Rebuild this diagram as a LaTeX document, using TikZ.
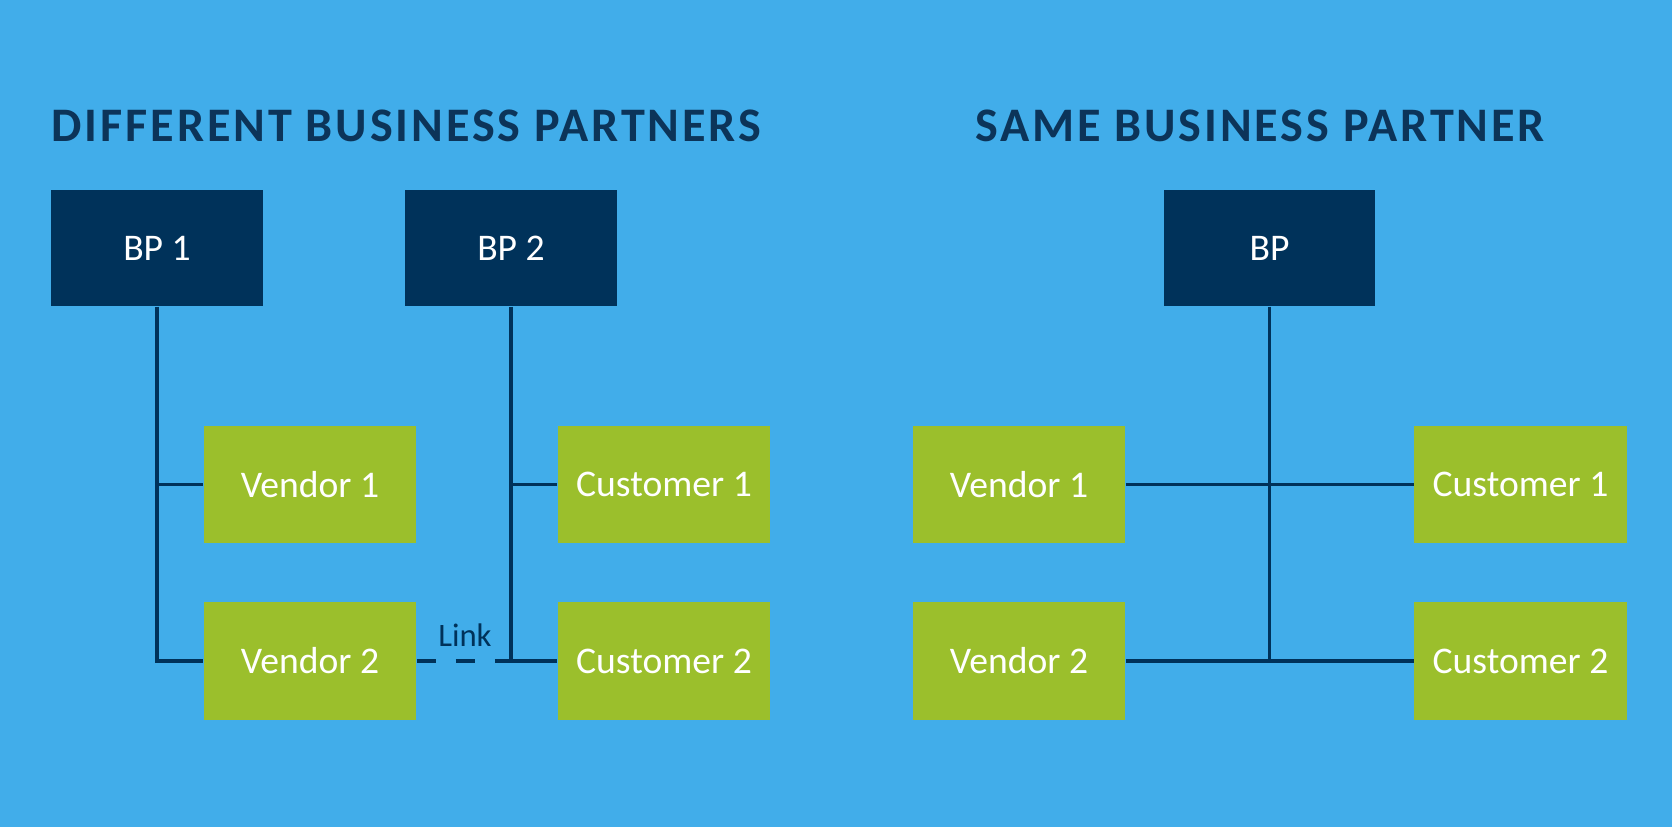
\documentclass[tikz,border=0pt]{standalone}
\usepackage{fontspec}
\setmainfont{Carlito}
\newfontfamily\titlefont[LetterSpace=6]{Carlito}
\usepackage{xcolor}
\definecolor{bp-sky}{HTML}{41ADEA}
\definecolor{bp-navy}{HTML}{00325A}
\definecolor{bp-title}{HTML}{0C3459}
\definecolor{bp-green}{HTML}{9BBF2C}

\tikzset{
    bpbox/.style={fill=bp-navy, text=white, minimum width=2.11cm, minimum height=1.16cm, inner sep=0pt, font=\fontsize{10.7}{13}\selectfont},
    rolebox/.style={fill=bp-green, text=white, minimum width=2.12cm, minimum height=1.17cm, inner sep=0pt, font=\fontsize{10.7}{13}\selectfont},
    bpline/.style={draw=bp-navy, line width=0.95pt},
    headline/.style={text=bp-title, inner sep=0pt, font=\titlefont\fontsize{13.7}{16}\selectfont\bfseries}
}

\begin{document}
\begin{tikzpicture}[x=0.01cm, y=-0.01cm]

    % Background
    \fill[bp-sky] (0, 0) rectangle (1672, 827);

    % Different business partners
    \node[headline, anchor=base west] (titleleft) at (51, 141) {DIFFERENT BUSINESS PARTNERS};

    \node[bpbox] (bp1) at (157, 248) {BP 1};
    \node[bpbox] (bp2) at (511, 248) {BP 2};

    \node[rolebox] (ven1) at (310, 484.5) {Vendor 1};
    \node[rolebox] (ven2) at (310, 661) {Vendor 2};
    \node[rolebox] (cus1) at (664, 484.5) {Customer 1};
    \node[rolebox] (cus2) at (664, 661) {Customer 2};

    \draw[bpline] (bp1.south) |- (ven2.west);
    \draw[bpline] (bp1.south |- ven1.west) -- (ven1.west);
    \draw[bpline] (bp2.south) |- (cus2.west);
    \draw[bpline] (bp2.south |- cus1.west) -- (cus1.west);

    % Link
    \coordinate (linkend) at (bp2.south |- ven2.east);
    \draw[bpline, dash pattern=on 0.19cm off 0.2cm] (ven2.east) -- (linkend);
    \node[text=bp-navy, inner sep=0pt, anchor=base, font=\fontsize{9.3}{11}\selectfont] (link) at (465, 646) {Link};

    % Same business partner
    \node[headline, anchor=base] (titleright) at (1260, 141) {SAME BUSINESS PARTNER};

    \node[bpbox] (bp) at (1269.5, 248) {BP};

    \node[rolebox] (sven1) at (1019, 484.5) {Vendor 1};
    \node[rolebox] (sven2) at (1019, 661) {Vendor 2};
    \node[rolebox] (scus1) at (1520.5, 484.5) {Customer 1};
    \node[rolebox] (scus2) at (1520.5, 661) {Customer 2};

    \draw[bpline] (bp.south) -- (bp.south |- sven2.east);
    \draw[bpline] (sven1.east) -- (scus1.west);
    \draw[bpline] (sven2.east) -- (scus2.west);

\end{tikzpicture}
\end{document}
